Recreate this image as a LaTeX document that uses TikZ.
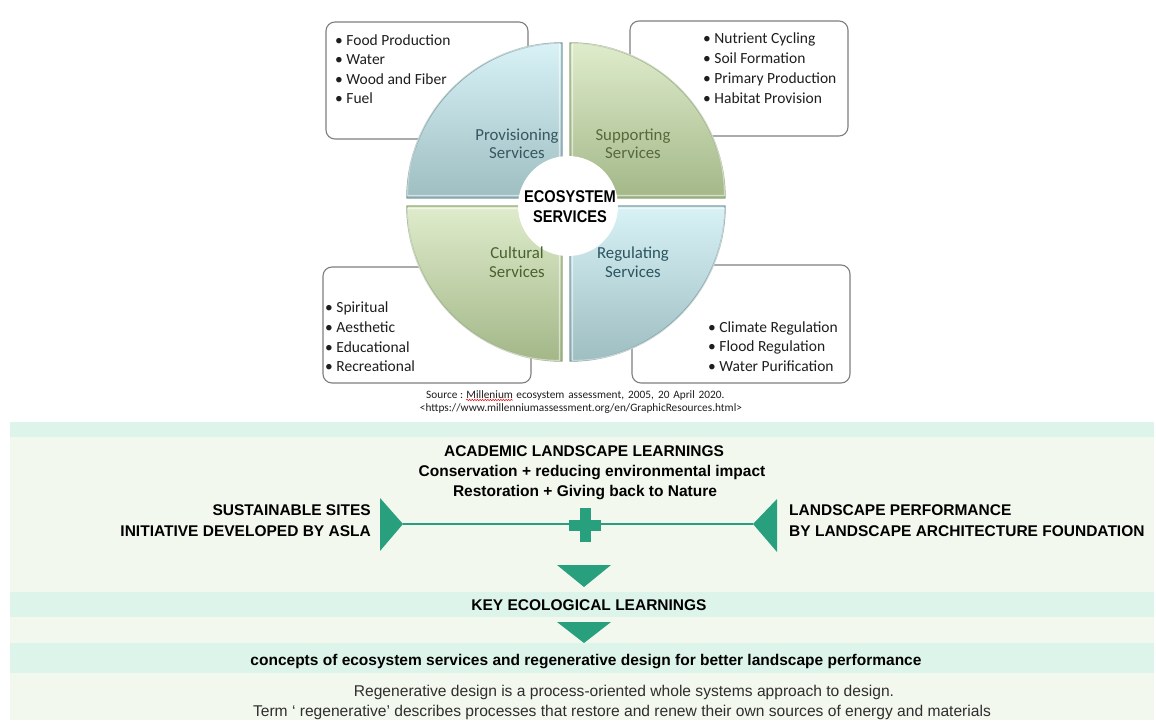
\documentclass[tikz,border=0pt]{standalone}
\usepackage{fontspec}
\setmainfont{Carlito}
\newfontfamily\arial{Liberation Sans}
\newfontfamily\arialnarrow[FakeStretch=0.86]{Liberation Sans}
\usetikzlibrary{calc,decorations.pathmorphing}

\definecolor{accent}{HTML}{28A07E}
\definecolor{boxgray}{HTML}{7F7F7F}
\definecolor{itemtext}{HTML}{1E1E1E}
\definecolor{bandbg}{HTML}{F3F8EE}
\definecolor{bandstrip}{HTML}{DDF4EA}
\definecolor{provtop}{HTML}{D8F2F6}
\definecolor{provbot}{HTML}{9EBEC2}
\definecolor{provline}{HTML}{7F9DA2}
\definecolor{supptop}{HTML}{DFECCC}
\definecolor{suppbot}{HTML}{A3B788}
\definecolor{suppline}{HTML}{93A87C}
\definecolor{provtext}{HTML}{36575F}
\definecolor{supptext}{HTML}{56693A}
\definecolor{culttext}{HTML}{48632E}
\definecolor{regutext}{HTML}{2B5560}

\begin{document}
\begin{tikzpicture}[x=1pt,y=-1pt,
  listbox/.style={draw=boxgray, line width=1.1pt, rounded corners=9pt, fill=white},
  item/.style={anchor=base west, inner sep=0pt, text=itemtext,
    font=\fontsize{15.5}{17}\selectfont},
  qlabel/.style={align=center, inner sep=0pt,
    font=\fontsize{16.8}{18.5}\selectfont},
  bluequad/.style={top color=provtop, bottom color=provbot, draw=provline, line width=1.4pt},
  greenquad/.style={top color=supptop, bottom color=suppbot, draw=suppline, line width=1.4pt},
  rim/.style={draw=white, draw opacity=0.55, line width=1.2pt},
  srcline/.style={anchor=base west, inner sep=0pt, text=itemtext,
    font=\fontsize{11.3}{12}\selectfont},
  headtext/.style={inner sep=0pt, text=black,
    font=\arial\bfseries\fontsize{15.5}{18}\selectfont},
  plaintext/.style={anchor=base, inner sep=0pt, text=black!82,
    font=\arial\fontsize{15.6}{17}\selectfont},
  marker/.style={fill=accent, draw=none},
  spellmark/.style={draw=red, line width=0.5pt, decorate,
    decoration={snake, amplitude=0.7pt, segment length=2.6pt}}
]
\useasboundingbox (0,0) rectangle (1156,720);
\fill[white] (0,0) rectangle (1156,720);

% ---------- list boxes behind the wheel ----------
\draw[listbox] (326,22) rectangle (528,139);
\draw[listbox] (630,21) rectangle (848,136);
\draw[listbox] (323,267) rectangle (531,383);
\draw[listbox] (632,265) rectangle (850,383);

% ---------- the four quadrants ----------
\path[bluequad]  (562,198) -- (407,198) arc[start angle=180, end angle=270, radius=155] -- cycle;
\path[greenquad] (570,198) -- (570,43)  arc[start angle=270, end angle=360, radius=155] -- cycle;
\path[bluequad]  (570,206) -- (725,206) arc[start angle=0,   end angle=90,  radius=155] -- cycle;
\path[greenquad] (562,206) -- (562,361) arc[start angle=90,  end angle=180, radius=155] -- cycle;
% soft inner bevel
\path[rim] (559.5,195.5) -- (407.5,195.5) arc[start angle=180, end angle=270, radius=152] -- cycle;
\path[rim] (572.5,195.5) -- (572.5,43.5)  arc[start angle=270, end angle=360, radius=152] -- cycle;
\path[rim] (572.5,208.5) -- (724.5,208.5) arc[start angle=0,   end angle=90,  radius=152] -- cycle;
\path[rim] (559.5,208.5) -- (559.5,360.5) arc[start angle=90,  end angle=180, radius=152] -- cycle;

% centre disc
\fill[white] (568,206) circle (50);

% ---------- quadrant labels ----------
\node[qlabel, text=provtext] (prov) at (517,144) {Provisioning\\Services};
\node[qlabel, text=supptext] (supp) at (633,144) {Supporting\\Services};
\node[qlabel, text=culttext] (cult) at (517,262) {Cultural\\Services};
\node[qlabel, text=regutext] (regu) at (633,262) {Regulating\\Services};
\node[align=center, inner sep=0pt, text=black,
      font=\arialnarrow\bfseries\fontsize{17}{20}\selectfont] (eco) at (570,207) {ECOSYSTEM\\SERVICES};

% ---------- list items ----------
\node[item] (p1) at (335,45)    {• Food Production};
\node[item] (p2) at (335,64.5)  {• Water};
\node[item] (p3) at (335,84)    {• Wood and Fiber};
\node[item] (p4) at (335,103.5) {• Fuel};

\node[item] (s1) at (703,43.5)  {• Nutrient Cycling};
\node[item] (s2) at (703,63)    {• Soil Formation};
\node[item] (s3) at (703,83)    {• Primary Production};
\node[item] (s4) at (703,103)   {• Habitat Provision};

\node[item] (c1) at (325,312)   {• Spiritual};
\node[item] (c2) at (325,332)   {• Aesthetic};
\node[item] (c3) at (325,352)   {• Educational};
\node[item] (c4) at (325,371)   {• Recreational};

\node[item] (r1) at (708,332)   {• Climate Regulation};
\node[item] (r2) at (708,351.5) {• Flood Regulation};
\node[item] (r3) at (708,371)   {• Water Purification};

% ---------- source ----------
\node[srcline] (srcA) at (426,398) {Source :};
\node[srcline] (srcB) at ($(srcA.base east)+(3,0)$) {Millenium};
\node[srcline] (srcC) at ($(srcB.base east)+(3,0)$) {\makebox[208pt][s]{ecosystem assessment, 2005, 20 April 2020.}};
\draw[spellmark] ($(srcB.base west)+(0,2)$) -- ($(srcB.base east)+(0,2)$);
\node[srcline, anchor=base] (src2) at (581,411) {<https://www.millenniumassessment.org/en/GraphicResources.html>};

% ---------- lower panel ----------
\fill[bandbg]    (10,422) rectangle (1154,720);
\fill[bandstrip] (10,422) rectangle (1154,437);
\fill[bandstrip] (10,592) rectangle (1154,617);
\fill[bandstrip] (10,643) rectangle (1154,673);

\node[headtext, anchor=base] (acad1) at (584,456) {ACADEMIC LANDSCAPE LEARNINGS};
\node[headtext, anchor=base] (acad2) at (592,476) {Conservation + reducing environmental impact};
\node[headtext, anchor=base] (acad3) at (585,496) {Restoration + Giving back to Nature};

\node[headtext, anchor=base east] (sites1) at (371,515) {SUSTAINABLE SITES};
\node[headtext, anchor=base east] (sites2) at (371,536) {INITIATIVE DEVELOPED BY ASLA};
\node[headtext, anchor=base west] (perf1) at (789,515) {LANDSCAPE PERFORMANCE};
\node[headtext, anchor=base west] (perf2) at (789,536) {BY LANDSCAPE ARCHITECTURE FOUNDATION};

% side pointers and the joining line
\coordinate (lt) at (403,524);
\coordinate (rt) at (753,524);
\fill[marker] (380,498) -- (380,551) -- (lt) -- cycle;
\fill[marker] (777,499) -- (777,552) -- (rt) -- cycle;
\draw[accent, line width=1.4pt] (lt) -- (rt);

% plus sign
\fill[marker] (580,508) rectangle (591,542);
\fill[marker] (569,520) rectangle (601,531);

% downward pointers
\fill[marker] (557,565) -- (611,565) -- (584,587) -- cycle;
\fill[marker] (557,622) -- (611,622) -- (584,643) -- cycle;

\node[headtext, anchor=base] (key) at (589,610) {KEY ECOLOGICAL LEARNINGS};
\node[headtext, anchor=base] (concepts) at (586,665)
  {concepts of ecosystem services and regenerative design for better landscape performance};
\node[plaintext] (regen1) at (624,696) {Regenerative design is a process-oriented whole systems approach to design.};
\node[plaintext] (regen2) at (622,716) {Term ‘ regenerative’ describes processes that restore and renew their own sources of energy and materials};
\end{tikzpicture}
\end{document}
